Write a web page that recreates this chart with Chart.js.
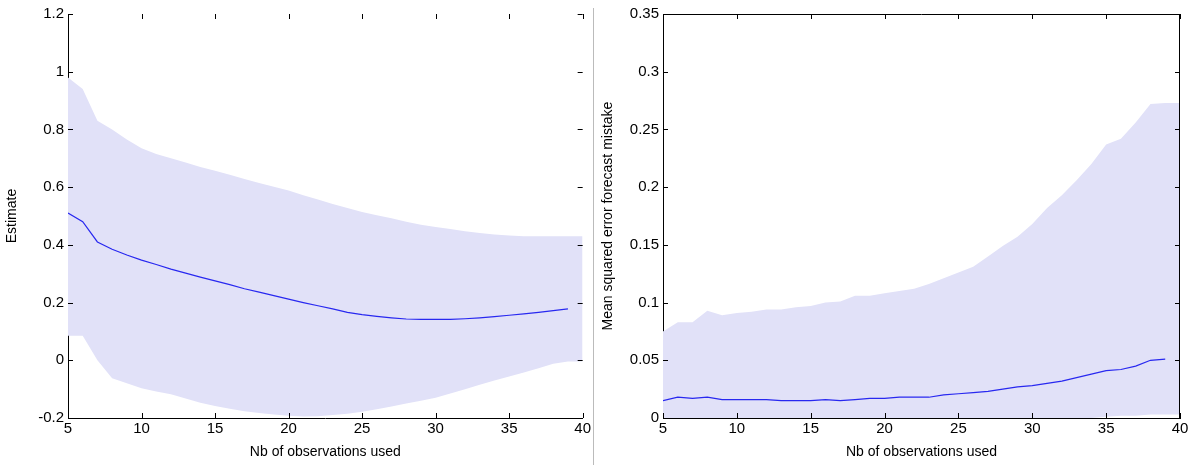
<!DOCTYPE html>
<html><head><meta charset="utf-8">
<script src="https://cdn.jsdelivr.net/npm/chart.js@4"></script>
<style>
body{margin:0;background:#fff;width:1197px;height:465px;position:relative;overflow:hidden}
.box{position:absolute;top:0;height:465px}
#divider{position:absolute;left:593px;top:8px;width:1px;height:457px;background:#bbb}
</style></head><body>
<div class="box" style="left:0;width:593px"><canvas id="leftChart"></canvas></div>
<div id="divider"></div>
<div class="box" style="left:596px;width:601px"><canvas id="rightChart"></canvas></div>
<script>
// x values (number of observations)
const nbObs = [5,6,7,8,9,10,11,12,13,14,15,16,17,18,19,20,21,22,23,24,25,26,27,28,29,30,31,32,33,34,35,36,37,38,39,40];

// left panel: estimate + band
const estMean = [0.51,0.48,0.41,0.385,0.365,0.347,0.332,0.316,0.302,0.288,0.275,0.262,0.248,0.236,0.224,0.212,0.2,0.189,0.178,0.166,0.158,0.152,0.147,0.143,0.142,0.142,0.142,0.144,0.147,0.151,0.156,0.161,0.166,0.172,0.178,null];
const estUpper = [0.98,0.94,0.83,0.80,0.765,0.735,0.715,0.70,0.685,0.67,0.657,0.643,0.628,0.614,0.601,0.588,0.572,0.557,0.542,0.528,0.514,0.503,0.492,0.48,0.47,0.462,0.455,0.447,0.441,0.436,0.432,0.43,0.43,0.43,0.43,0.43];
const estLower = [0.085,0.085,0.0,-0.062,-0.08,-0.097,-0.108,-0.118,-0.132,-0.147,-0.158,-0.168,-0.177,-0.183,-0.188,-0.192,-0.195,-0.194,-0.19,-0.185,-0.178,-0.17,-0.16,-0.15,-0.14,-0.13,-0.115,-0.1,-0.085,-0.07,-0.056,-0.042,-0.028,-0.012,-0.004,-0.004];

// right panel: mean squared error + band
const mseMean = [0.015,0.018,0.017,0.018,0.016,0.016,0.016,0.016,0.015,0.015,0.015,0.016,0.015,0.016,0.017,0.017,0.018,0.018,0.018,0.02,0.021,0.022,0.023,0.025,0.027,0.028,0.030,0.032,0.035,0.038,0.041,0.042,0.045,0.05,0.051,null];
const mseUpper = [0.075,0.083,0.083,0.093,0.089,0.091,0.092,0.094,0.094,0.096,0.097,0.1,0.101,0.106,0.106,0.108,0.11,0.112,0.116,0.121,0.126,0.131,0.14,0.149,0.157,0.168,0.182,0.193,0.206,0.22,0.237,0.242,0.256,0.272,0.273,0.273];
const mseLower = [0,0,0,0,0,0,0,0,0,0,0,0,0,0,0,0,0,0,0,0,0,0,0,0,0,0,0,0,0,0,0.001,0.002,0.002,0.003,0.003,0.003];

const xTicks = [5,10,15,20,25,30,35,40];
const bandColor = 'rgb(225,225,248)';
const lineColor = 'rgb(40,40,240)';
const FONT = 'Liberation Sans, Arial, sans-serif';

// matlab style inward ticks
const inwardTicks = {
  id: 'inwardTicks',
  afterDraw(chart, args, opts) {
    const ctx = chart.ctx, a = chart.chartArea, xs = chart.scales.x, ys = chart.scales.y;
    ctx.save();
    ctx.strokeStyle = '#000'; ctx.lineWidth = 1;
    ctx.beginPath();
    xs.ticks.forEach(t => {
      const px = Math.round(xs.getPixelForValue(t.value)) + 0.5;
      ctx.moveTo(px, a.bottom); ctx.lineTo(px, a.bottom - 5);
      ctx.moveTo(px, a.top); ctx.lineTo(px, a.top + 5);
    });
    ys.ticks.forEach(t => {
      const py = Math.round(ys.getPixelForValue(t.value)) + 0.5;
      ctx.moveTo(a.left, py); ctx.lineTo(a.left + 5, py);
      ctx.moveTo(a.right, py); ctx.lineTo(a.right - 5, py);
    });
    ctx.stroke();
    if (opts.box) {
      ctx.beginPath();
      ctx.moveTo(a.left, a.top + 0.5); ctx.lineTo(a.right, a.top + 0.5);
      ctx.moveTo(a.right - 0.5, a.top); ctx.lineTo(a.right - 0.5, a.bottom);
      ctx.stroke();
    }
    ctx.restore();
  }
};

function fmt(v) { return String(Number(v.toFixed(3))); }

function makeChart(id, mean, upper, lower, yMin, yMax, yStep, yTitle, yW, padRight, box) {
  return new Chart(id, {
    type: 'line',
    data: {
      labels: nbObs,
      datasets: [
        {data: upper, borderWidth: 0, pointRadius: 0, backgroundColor: bandColor, fill: '+1', order: 3},
        {data: lower, borderWidth: 0, pointRadius: 0, backgroundColor: bandColor, fill: false, order: 3},
        {data: mean, borderColor: lineColor, borderWidth: 1.2, pointRadius: 0, fill: false, order: 1}
      ]
    },
    options: {
      responsive: true, maintainAspectRatio: false, animation: false,
      layout: {padding: {top: 14, right: padRight, left: 0, bottom: 0}},
      plugins: {legend: {display: false}, tooltip: {enabled: false}, inwardTicks: {box: box}},
      scales: {
        x: {
          type: 'linear', min: 5, max: 40,
          afterBuildTicks: s => { s.ticks = xTicks.map(v => ({value: v})); },
          afterFit: s => { s.height = 47; },
          grid: {display: false, drawTicks: false},
          border: {color: '#000'},
          ticks: {color: '#000', font: {family: FONT, size: 15}, padding: 2, maxRotation: 0},
          title: {display: true, text: 'Nb of observations used', color: '#000', font: {family: FONT, size: 14}, padding: {top: 0}}
        },
        y: {
          min: yMin, max: yMax,
          afterFit: s => { s.width = yW; },
          grid: {display: false, drawTicks: false},
          border: {color: '#000'},
          ticks: {stepSize: yStep, color: '#000', font: {family: FONT, size: 15}, padding: 4, callback: v => fmt(v)},
          title: {display: true, text: yTitle, color: '#000', font: {family: FONT, size: 14}, padding: {bottom: 2}}
        }
      }
    },
    plugins: [inwardTicks]
  });
}

makeChart('leftChart', estMean, estUpper, estLower, -0.2, 1.2, 0.2, 'Estimate', 68, 10, false);
makeChart('rightChart', mseMean, mseUpper, mseLower, 0, 0.35, 0.05, 'Mean squared error forecast mistake', 67, 17, true);
</script>
</body></html>
